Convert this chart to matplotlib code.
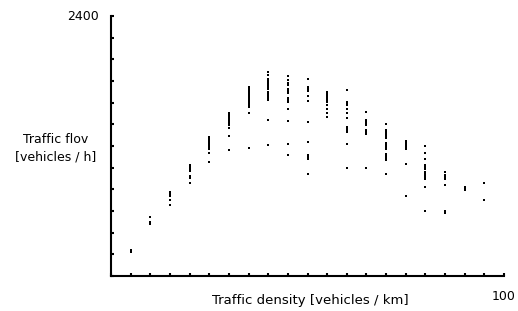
import matplotlib.pyplot as plt

# traffic density columns (vehicles / km) and the flow readings for each
density = [5, 10, 15, 20, 25, 30, 35, 40, 45, 50, 55, 60, 65, 70, 75, 80, 85, 90, 95]
flow = [
    [240, 222],
    [545, 498, 480],
    [775, 757, 738, 702, 655],
    [1025, 1006, 988, 969, 923, 905, 858],
    [1283, 1265, 1246, 1228, 1209, 1191, 1172, 1135, 1052],
    [1505, 1486, 1468, 1449, 1431, 1412, 1394, 1366, 1292, 1163],
    [1745, 1726, 1708, 1689, 1671, 1652, 1634, 1615, 1597, 1578, 1560, 1505, 1182],
    [1883, 1855, 1818, 1800, 1782, 1763, 1745, 1726, 1698, 1680, 1662, 1643, 1625, 1440, 1209],
    [1846, 1809, 1782, 1763, 1726, 1708, 1689, 1643, 1625, 1606, 1542, 1431, 1218, 1117],
    [1818, 1745, 1726, 1708, 1662, 1615, 1422, 1237, 1117, 1098, 1080, 942],
    [1698, 1680, 1662, 1643, 1625, 1606, 1578, 1542, 1505, 1468],
    [1717, 1606, 1588, 1578, 1542, 1505, 1458, 1375, 1357, 1338, 1329, 1218, 997],
    [1514, 1440, 1422, 1403, 1394, 1348, 1329, 1311, 997],
    [1403, 1348, 1329, 1311, 1292, 1274, 1228, 1209, 1191, 1172, 1126, 1108, 1089, 1071, 942],
    [1246, 1228, 1209, 1191, 1172, 1034, 738],
    [1200, 1135, 1080, 1025, 1006, 988, 960, 942, 923, 905, 895, 822, 600],
    [960, 932, 914, 895, 840, 600, 582],
    [822, 803, 794],
    [858, 702],
]

xs = []
ys = []
for d, vals in zip(density, flow):
    for v in vals:
        xs.append(d)
        ys.append(v)

fig = plt.figure(figsize=(5.18, 3.11), dpi=100)
ax = fig.add_axes([0.2143, 0.1125, 0.7587, 0.836])

ax.scatter(xs, ys, s=3, marker="s", color="black", linewidths=0)

ax.set_xlim(0, 100)
ax.set_ylim(0, 2400)
ax.spines["top"].set_visible(False)
ax.spines["right"].set_visible(False)
ax.spines["left"].set_linewidth(1.5)
ax.spines["bottom"].set_linewidth(1.5)
ax.set_xticks(range(0, 101, 5))
ax.set_yticks(range(0, 2401, 200))
ax.tick_params(direction="in", length=2.5, width=1.5, labelbottom=False, labelleft=False)

fs = 9
ax.text(-3, 2400, "2400", ha="right", va="center", fontsize=fs, clip_on=False)
ax.text(100, -190, "100", ha="center", va="center", fontsize=fs, clip_on=False)
ax.text(50.6, -222, "Traffic density [vehicles / km]", ha="center", va="center",
        fontsize=9.5, clip_on=False)
ax.text(-14.2, 1181, "Traffic flov\n[vehicles / h]", ha="center", va="center",
        fontsize=fs, linespacing=1.45, clip_on=False)

fig.savefig("out.png", dpi=100)
